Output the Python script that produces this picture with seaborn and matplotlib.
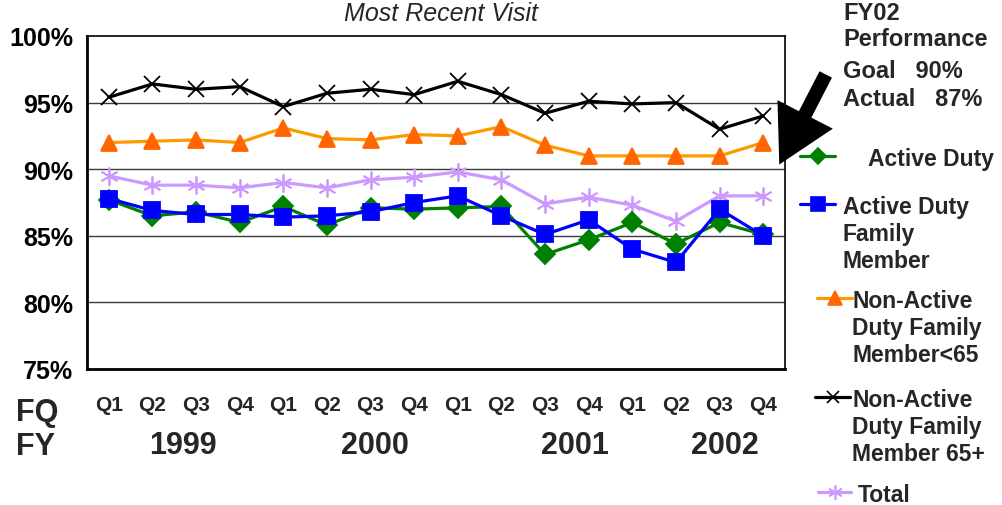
import numpy as np
import pandas as pd
import matplotlib
matplotlib.use("Agg")
import matplotlib.pyplot as plt
import seaborn as sns
from matplotlib.patches import FancyArrowPatch
from matplotlib.lines import Line2D

# ---------------- data ----------------
quarters = ["Q1", "Q2", "Q3", "Q4"] * 4
years = ["1999", "2000", "2001", "2002"]
active_duty = [87.7, 86.5, 86.8, 86.0, 87.2, 85.8, 87.1, 87.0, 87.1, 87.2, 83.6, 84.7, 86.0, 84.4, 86.0, 85.1]
ad_family = [87.8, 86.9, 86.6, 86.6, 86.4, 86.5, 86.8, 87.5, 88.0, 86.5, 85.1, 86.2, 84.0, 83.0, 87.0, 85.0]
non_ad_lt65 = [92.0, 92.1, 92.2, 92.0, 93.1, 92.3, 92.2, 92.6, 92.5, 93.2, 91.8, 91.0, 91.0, 91.0, 91.0, 92.0]
non_ad_65p = [95.4, 96.4, 96.0, 96.2, 94.7, 95.7, 96.0, 95.6, 96.6, 95.6, 94.2, 95.1, 94.9, 95.0, 93.0, 94.0]
total = [89.5, 88.8, 88.8, 88.6, 89.0, 88.6, 89.2, 89.4, 89.8, 89.2, 87.4, 87.9, 87.3, 86.1, 88.0, 88.0]

series_names = ["Active Duty", "Active Duty\nFamily\nMember",
                "Non-Active\nDuty Family\nMember<65", "Non-Active\nDuty Family\nMember 65+", "Total"]
series_values = [active_duty, ad_family, non_ad_lt65, non_ad_65p, total]

rows = []
for name, vals in zip(series_names, series_values):
    for i, v in enumerate(vals):
        rows.append({"idx": i, "value": v, "series": name})
df = pd.DataFrame(rows)

# ---------------- style ----------------
sns.set_style("white")
plt.rcParams["font.family"] = ["Liberation Sans", "DejaVu Sans"]
plt.rcParams["font.weight"] = "bold"

styles = {
    series_names[0]: dict(color="#008000", marker="D", ms=10, mfc="#008000", mec="#008000"),
    series_names[1]: dict(color="#0000FF", marker="s", ms=12, mfc="#0000FF", mec="#0000FF"),
    series_names[2]: dict(color="#FF9900", marker="^", ms=12, mfc="#FF6600", mec="#FF6600"),
    series_names[3]: dict(color="#000000", marker="x", ms=11, mfc="#000000", mec="#000000"),
    series_names[4]: dict(color="#CC99FF", marker=(6, 2, 0), ms=13, mfc="#CC99FF", mec="#CC99FF"),
}
draw_order = [series_names[4], series_names[3], series_names[2], series_names[0], series_names[1]]

W, H = 1002, 506
fig = plt.figure(figsize=(W / 100, H / 100), dpi=100)
ax = fig.add_axes([87 / W, 1 - 370 / H, (785 - 87) / W, (370 - 37) / H])

for name in draw_order:
    st = styles[name]
    sub = df[df["series"] == name]
    sns.lineplot(data=sub, x="idx", y="value", ax=ax, color=st["color"], linewidth=2.3,
                 marker=st["marker"], markersize=st["ms"], markerfacecolor=st["mfc"],
                 markeredgecolor=st["mec"], markeredgewidth=1.3, legend=False, zorder=3)

ax.set_xlim(-0.5, 15.5)
ax.set_ylim(75, 100)
ax.set_xlabel("")
ax.set_ylabel("")

yt = [75, 80, 85, 90, 95, 100]
ax.set_yticks(yt)
ax.set_yticklabels([f"{v}%" for v in yt], fontsize=18, fontweight="bold")
ax.tick_params(axis="y", direction="out", length=6, width=1, pad=4, colors="black")
for v in [80, 85, 90, 95]:
    ax.axhline(v, color="#3a3a3a", lw=1, zorder=1)

ax.set_xticks(range(len(quarters)))
ax.set_xticklabels(quarters, fontsize=15, fontweight="bold")
ax.tick_params(axis="x", length=0, pad=19)
ax.set_xticks(np.arange(-0.5, 16, 1), minor=True)
ax.tick_params(axis="x", which="minor", direction="out", length=6, width=1, color="black")

for side in ["left", "bottom"]:
    ax.spines[side].set_linewidth(2)
    ax.spines[side].set_color("black")
for side in ["top", "right"]:
    ax.spines[side].set_linewidth(1.2)
    ax.spines[side].set_color("black")
    ax.spines[side].set_visible(True)

# FQ / FY labels and years
fig.text(16 / W, 1 - 413 / H, "FQ", fontsize=22, fontweight="bold", va="center", ha="left")
fig.text(16 / W, 1 - 447 / H, "FY", fontsize=22, fontweight="bold", va="center", ha="left")
year_x = [183, 375, 575, 725]
for yr, xp in zip(years, year_x):
    fig.text(xp / W, 1 - 446 / H, yr, fontsize=22, fontweight="bold", va="center", ha="center")

# title
fig.text(441 / W, 1 - 2 / H, "Most Recent Visit", fontsize=18, fontweight="normal",
         style="italic", ha="center", va="top")

# performance box
perf_lines = ["FY02", "Performance", "Goal   90%", "Actual   87%"]
perf_y = [13, 40, 72, 99]
for t, yp in zip(perf_lines, perf_y):
    fig.text(843 / W, 1 - yp / H, t, fontsize=17, fontweight="bold", va="center")

arrow = FancyArrowPatch((827 / W, 1 - 73 / H), (778 / W, 1 - 168 / H), transform=fig.transFigure,
                        arrowstyle="simple,head_width=1.6,head_length=1.45,tail_width=0.36",
                        mutation_scale=28, color="black", lw=0)
fig.add_artist(arrow)

# legend (manual placement of keys)
leg_pos = [  # (line x0, line x1, key y, text x)
    (800, 835, 157, 868),
    (800, 835, 205, 843),
    (817, 852, 299, 852),
    (815, 850, 398, 852),
    (818, 851, 493, 858),
]
for name, (x0, x1, yk, xt) in zip(series_names, leg_pos):
    st = styles[name]
    ln = Line2D([x0 / W, (x0 + x1) / 2 / W, x1 / W], [1 - yk / H] * 3, transform=fig.transFigure,
                color=st["color"], lw=2.3, marker=st["marker"], markevery=[1],
                markersize=st["ms"] * 0.8, markerfacecolor=st["mfc"], markeredgecolor=st["mec"],
                markeredgewidth=1.2)
    fig.add_artist(ln)
    fig.text(xt / W, 1 - (yk - 9) / H, name, fontsize=16.5, fontweight="bold",
             va="top", ha="left", linespacing=1.21)

fig.savefig("out.png", dpi=100)
